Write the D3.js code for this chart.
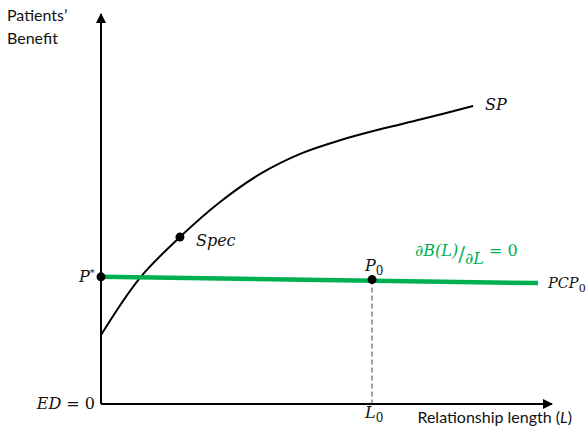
<!DOCTYPE html>
<html>
<head>
<meta charset="utf-8">
<script src="https://cdn.jsdelivr.net/npm/d3@7"></script>
<style>
  body { margin: 0; background: #fff; }
  .sans { font-family: Lato, "Open Sans", sans-serif; font-size: 16px; fill: #111; }
  .math { font-family: "DejaVu Serif", "Liberation Serif", serif; font-style: italic; font-size: 16px; fill: #111; }
</style>
</head>
<body>
<svg id="chart" width="588" height="427"></svg>
<script>
const width = 588;
const height = 427;

// curve SP (relationship length vs. benefit, arbitrary units 0-100)
const spL = [0, 8.6, 17.5, 26.4, 35.3, 44.3, 53.2, 62.1, 71.0, 82.5];
const spB = [17.7, 32.3, 42.8, 51.8, 59.0, 64.2, 67.7, 70.5, 73.0, 76.4];

// PCP0 line (flat, slightly falling)
const pcpL = [0, 96.9];
const pcpB = [32.6, 31.0];

// marked points
const pointNames = ["P*", "Spec", "P0"];
const pointL = [0, 17.5, 60.1];
const pointB = [32.6, 42.8, 31.9];

const L0 = 60.1;

const svg = d3.select("#chart");

const x = d3.scaleLinear().domain([0, 100]).range([101, 552]);
const y = d3.scaleLinear().domain([0, 100]).range([404, 14]);

// arrow marker
const defs = svg.append("defs");
defs.append("marker")
  .attr("id", "arrow")
  .attr("viewBox", "0 0 10 10")
  .attr("refX", 9).attr("refY", 5)
  .attr("markerWidth", 5).attr("markerHeight", 5)
  .attr("orient", "auto")
  .append("path")
  .attr("d", "M0,0 L10,5 L0,10 z")
  .attr("fill", "#000");

/* AXES */
svg.append("line")
  .attr("x1", x(0)).attr("y1", y(0))
  .attr("x2", x(0)).attr("y2", y(100))
  .attr("stroke", "#000").attr("stroke-width", 2)
  .attr("marker-end", "url(#arrow)");

svg.append("line")
  .attr("x1", x(0)).attr("y1", y(0))
  .attr("x2", x(100)).attr("y2", y(0))
  .attr("stroke", "#000").attr("stroke-width", 2)
  .attr("marker-end", "url(#arrow)");

// dashed drop line at L0
svg.append("line")
  .attr("x1", x(L0)).attr("y1", y(pointB[2]))
  .attr("x2", x(L0)).attr("y2", y(0))
  .attr("stroke", "#444").attr("stroke-width", 1)
  .attr("stroke-dasharray", "5,3");

/* CURVES */
const spData = spL.map((d, i) => [d, spB[i]]);
const line = d3.line()
  .x(d => x(d[0]))
  .y(d => y(d[1]))
  .curve(d3.curveCatmullRom.alpha(0.5));

svg.append("path")
  .datum(spData)
  .attr("d", line)
  .attr("fill", "none")
  .attr("stroke", "#000")
  .attr("stroke-width", 2);

const pcpData = pcpL.map((d, i) => [d, pcpB[i]]);
svg.append("path")
  .datum(pcpData)
  .attr("d", d3.line().x(d => x(d[0])).y(d => y(d[1])))
  .attr("fill", "none")
  .attr("stroke", "#00b050")
  .attr("stroke-width", 4.5);

/* POINTS */
svg.selectAll("circle.pt")
  .data(pointNames)
  .enter()
  .append("circle")
  .attr("class", "pt")
  .attr("cx", (d, i) => x(pointL[i]))
  .attr("cy", (d, i) => y(pointB[i]))
  .attr("r", 4.5)
  .attr("fill", "#000");

/* LABELS */
const ylab = svg.append("text").attr("class", "sans");
ylab.append("tspan").attr("x", 7).attr("y", 21).text("Patients’");
ylab.append("tspan").attr("x", 7).attr("y", 44).text("Benefit");

const xlab = svg.append("text").attr("class", "sans")
  .attr("x", 572).attr("y", 423).attr("text-anchor", "end");
xlab.append("tspan").text("Relationship length (");
xlab.append("tspan").style("font-style", "italic").text("L");
xlab.append("tspan").text(")");

svg.append("text").attr("class", "math")
  .attr("x", 95).attr("y", 409).attr("text-anchor", "end")
  .html('ED <tspan style="font-style:normal">= 0</tspan>');

svg.append("text").attr("class", "math")
  .attr("x", x(spL[spL.length - 1]) + 12).attr("y", y(spB[spB.length - 1]) + 4)
  .text("SP");

svg.append("text").attr("class", "math")
  .attr("x", x(pointL[1]) + 16).attr("y", y(pointB[1]) + 9)
  .text("Spec");

const pstar = svg.append("text").attr("class", "math")
  .attr("x", x(0) - 22).attr("y", y(pointB[0]) + 5);
pstar.append("tspan").text("P");
pstar.append("tspan").attr("dy", -6).style("font-size", "10px").style("font-style", "normal").text("*");

const p0 = svg.append("text").attr("class", "math")
  .attr("x", x(pointL[2]) - 7).attr("y", y(pointB[2]) - 9);
p0.append("tspan").text("P");
p0.append("tspan").attr("dy", 4).style("font-size", "12px").style("font-style", "normal").text("0");

const l0 = svg.append("text").attr("class", "math")
  .attr("x", x(L0) - 7).attr("y", 418);
l0.append("tspan").text("L");
l0.append("tspan").attr("dy", 4).style("font-size", "12px").style("font-style", "normal").text("0");

const pcp = svg.append("text").attr("class", "math")
  .attr("x", x(pcpL[1]) + 10).attr("y", y(pcpB[1]) + 5)
  .style("font-size", "14.5px");
pcp.append("tspan").text("PCP");
pcp.append("tspan").attr("dy", 4).style("font-size", "11px").style("font-style", "normal").text("0");

// derivative annotation in green
const deriv = svg.append("text").attr("class", "math")
  .attr("x", 415).attr("y", 256).style("fill", "#00b050");
deriv.append("tspan").text("∂B(L)");
deriv.append("tspan").attr("dy", 5).style("font-style", "normal").style("font-size", "20px").text("/");
deriv.append("tspan").attr("dy", 3).text("∂L");
deriv.append("tspan").attr("dy", -8).style("font-style", "normal").text(" = 0");
</script>
</body>
</html>
